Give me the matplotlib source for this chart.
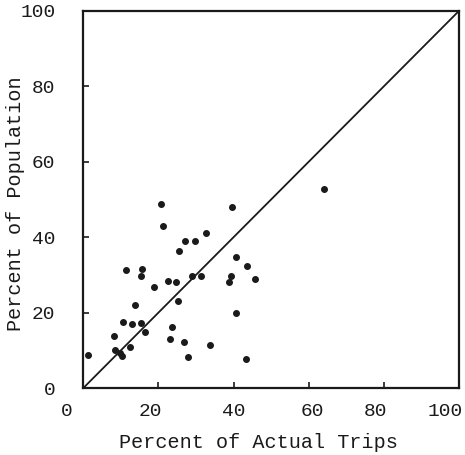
import matplotlib
matplotlib.use("Agg")
import matplotlib.pyplot as plt
from matplotlib.transforms import ScaledTranslation

actual_trips = [1.25, 8.3, 8.4, 9.75, 10.2, 10.6, 11.25, 12.4, 13.1, 13.8,
                15.4, 15.7, 15.5, 16.4, 18.9, 20.6, 21.3, 22.5, 23.1, 23.6,
                24.6, 25.2, 25.6, 26.7, 27.2, 27.9, 28.9, 29.7, 31.3, 32.7,
                33.7, 38.9, 39.4, 39.6, 40.6, 40.6, 43.3, 43.7, 45.6, 64.0]
population = [8.8, 13.9, 10.1, 9.4, 8.6, 17.4, 31.2, 11.0, 17.1, 22.1,
              17.2, 31.7, 29.6, 15.0, 26.7, 48.8, 43.1, 28.4, 13.1, 16.2,
              28.1, 23.0, 36.4, 12.3, 39.1, 8.2, 29.8, 39.1, 29.8, 41.0,
              11.5, 28.2, 29.8, 48.1, 34.7, 20.0, 7.7, 32.5, 28.9, 52.8]
ticks = [0, 20, 40, 60, 80, 100]
# hand-lettered x labels sit a little off their ticks (points)
xlabel_shift = [-12, -6, 0, 3, -6, -10]

INK = "#1a1a1a"
plt.rcParams["font.family"] = ["Liberation Mono", "DejaVu Sans Mono"]

fig = plt.figure(figsize=(4.65, 4.55), dpi=100)
ax = fig.add_axes([0.179, 0.147, 0.808, 0.829])

ax.plot([0, 100], [0, 100], color=INK, linewidth=1.3)
ax.scatter(actual_trips, population, s=16, color=INK, zorder=3)

ax.set_xlim(0, 100)
ax.set_ylim(0, 100)
ax.set_xticks(ticks)
ax.set_yticks(ticks)
ax.tick_params(axis="both", direction="in", length=4, width=1.2, labelsize=14,
               colors=INK)
ax.tick_params(axis="x", pad=11)
ax.tick_params(axis="y", pad=20)
for lab, dx in zip(ax.get_xticklabels(), xlabel_shift):
    lab.set_transform(lab.get_transform() + ScaledTranslation(dx / 72, 0, fig.dpi_scale_trans))
for s in ax.spines.values():
    s.set_linewidth(1.6)
    s.set_color(INK)

ax.set_xlabel("Percent of Actual Trips", fontsize=14.5, color=INK)
ax.set_ylabel("Percent of Population", fontsize=14.5, color=INK)
ax.xaxis.set_label_coords(0.465, -0.12)
ax.yaxis.set_label_coords(-0.155, 0.49)

fig.savefig("out.png", dpi=100)
